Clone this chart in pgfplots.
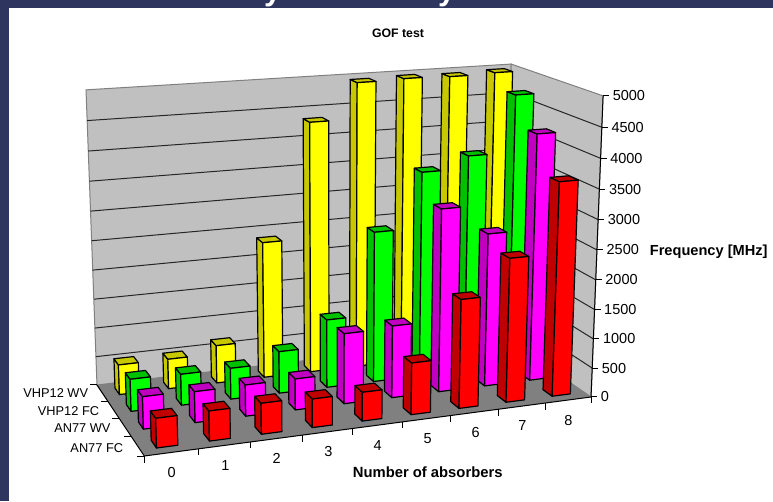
\documentclass[border=0pt]{standalone}
\usepackage{pgfplots}
\usepackage{pgfplotstable}
\usepackage{fontspec}
\setmainfont{Liberation Sans}
\pgfplotsset{compat=1.18}

\definecolor{slateband}{RGB}{46,53,94}
\definecolor{wallgray}{RGB}{192,192,192}
\definecolor{floorgray}{RGB}{128,128,128}
\definecolor{yfront}{RGB}{255,255,0}\definecolor{yside}{RGB}{200,200,0}
\definecolor{gfront}{RGB}{0,255,0}\definecolor{gside}{RGB}{0,192,0}
\definecolor{mfront}{RGB}{255,0,255}\definecolor{mside}{RGB}{192,0,192}
\definecolor{rfront}{RGB}{255,0,0}\definecolor{rside}{RGB}{192,0,0}

% Frequency in MHz per number of absorbers and per sample
\pgfplotstableread{
n  vhpwv  vhpfc  anwv  anfc
0   514    544    537   479
1   515    528    516   489
2   657    531    525   508
3   2361   720    525   474
4   4338   1175   1193  481
5   4949   2596   1231  869
6   4967   3542   3114  1832
7   4952   3755   2623  2429
8   4972   4728   4227  3612
}\gofdata

% Perspective projection of the unit chart box: u along the absorbers,
% v along the samples, w along the frequency
\newcommand\proj[5]{%
  \pgfmathsetmacro\den{1+0.0945*(#1)+0.1177*(#2)-0.0492*(#3)}%
  \pgfmathsetmacro#4{(502.6*(#1)-35.9*(#2)-16.5*(#3)+144.3)/\den}%
  \pgfmathsetmacro#5{(-21.5*(#1)-25.7*(#2)-334.3*(#3)+456)/\den}}

% Closed face through four box points
\newcommand\face[5]{%
  \proj#2\xa\ya \proj#3\xb\yb \proj#4\xc\yc \proj#5\xd\yd
  \edef\temp{\noexpand\addplot[#1] coordinates
    {(\xa,\ya) (\xb,\yb) (\xc,\yc) (\xd,\yd)} -- cycle;}\temp}

% Open line between two box points
\newcommand\edgeline[3]{%
  \proj#2\xa\ya \proj#3\xb\yb
  \edef\temp{\noexpand\addplot[#1] coordinates {(\xa,\ya) (\xb,\yb)};}\temp}

% One column: absorbers, sample index, value, front colour, shaded colour
\newcommand\column[5]{%
  \pgfmathsetmacro\uA{(#1+0.3)/9}\pgfmathsetmacro\uB{(#1+0.7)/9}%
  \pgfmathsetmacro\vA{(#2+0.3)/4}\pgfmathsetmacro\vB{(#2+0.7)/4}%
  \pgfmathsetmacro\wT{#3/5000}%
  \face{draw=black,line width=1.2pt,line join=round,fill=#5}
    {{\uA}{\vA}{0}}{{\uA}{\vB}{0}}{{\uA}{\vB}{\wT}}{{\uA}{\vA}{\wT}}%
  \face{draw=black,line width=1.2pt,line join=round,fill=#5}
    {{\uA}{\vA}{\wT}}{{\uB}{\vA}{\wT}}{{\uB}{\vB}{\wT}}{{\uA}{\vB}{\wT}}%
  \face{draw=black,line width=1.2pt,line join=round,fill=#4}
    {{\uA}{\vA}{0}}{{\uB}{\vA}{0}}{{\uB}{\vA}{\wT}}{{\uA}{\vA}{\wT}}}

\newcommand\sample[4]{%
  \pgfplotsinvokeforeach{0,...,8}{%
    \pgfplotstablegetelem{##1}{#1}\of\gofdata
    \let\thisvalue\pgfplotsretval
    \column{##1}{#2}{\thisvalue}{#3}{#4}}}

\newcommand\lbl[4][]{%
  \edef\temp{\noexpand\node[inner sep=0pt,\unexpanded{#1}] at (axis cs:#2,#3) {\unexpanded{#4}};}\temp}

\begin{document}
\begin{tikzpicture}
\begin{axis}[
  hide axis, scale only axis, width=773pt, height=501pt,
  xmin=0, xmax=773, ymin=0, ymax=501, y dir=reverse, clip=false,
  every axis plot/.append style={no markers}]

% page background and cut-off heading strip
\addplot[draw=none,fill=slateband] coordinates {(0,0) (773,0) (773,501) (0,501)} -- cycle;
\addplot[draw=none,fill=white] coordinates {(9,8) (773,8) (773,501) (9,501)} -- cycle;
\begin{scope}
  \clip (axis cs:0,0) rectangle (axis cs:773,8);
  \node[anchor=base west,inner sep=0pt,text=white,font=\fontsize{31}{34}\bfseries\selectfont] at (axis cs:264,0.5) {y};
  \node[anchor=base west,inner sep=0pt,text=white,font=\fontsize{31}{34}\bfseries\selectfont] at (axis cs:438,0.5) {y};
\end{scope}

% walls and floor
\face{draw=floorgray,line width=1pt,fill=wallgray}{{0}{1}{0}}{{1}{1}{0}}{{1}{1}{1}}{{0}{1}{1}}
\face{draw=floorgray,line width=1pt,fill=wallgray}{{1}{1}{0}}{{1}{0}{0}}{{1}{0}{1}}{{1}{1}{1}}
\pgfplotsinvokeforeach{1,...,9}{%
  \pgfmathsetmacro\wG{#1/10}%
  \edgeline{draw=black!85,line width=1pt}{{0}{1}{\wG}}{{1}{1}{\wG}}%
  \edgeline{draw=black!85,line width=1pt}{{1}{1}{\wG}}{{1}{0}{\wG}}}
\face{draw=none,fill=floorgray}{{0}{0}{0}}{{1}{0}{0}}{{1}{1}{0}}{{0}{1}{0}}

% columns, farthest sample first
\sample{vhpwv}{3}{yfront}{yside}
\sample{vhpfc}{2}{gfront}{gside}
\sample{anwv}{1}{mfront}{mside}
\sample{anfc}{0}{rfront}{rside}

% floor edges and frequency axis
\edgeline{draw=black,line width=1pt}{{0}{0}{0}}{{1}{0}{0}}
\edgeline{draw=black,line width=1pt}{{0}{0}{0}}{{0}{1}{0}}
\edgeline{draw=black,line width=1pt}{{1}{0}{0}}{{1}{0}{1}}

% ticks on the absorber axis
\pgfplotsinvokeforeach{0,...,9}{%
  \pgfmathsetmacro\uT{#1/9}\proj{\uT}{0}{0}\xa\ya
  \pgfmathsetmacro\yb{\ya+6.5}%
  \edef\temp{\noexpand\addplot[draw=black,line width=1pt] coordinates {(\xa,\ya) (\xa,\yb)};}\temp}
% ticks on the sample axis
\pgfplotsinvokeforeach{0,...,4}{%
  \pgfmathsetmacro\vT{#1/4}\proj{0}{\vT}{0}\xa\ya
  \pgfmathsetmacro\xb{\xa-7}%
  \edef\temp{\noexpand\addplot[draw=black,line width=1pt] coordinates {(\xa,\ya) (\xb,\ya)};}\temp}
% ticks and labels on the frequency axis
\pgfplotsinvokeforeach{0,500,...,5000}{%
  \pgfmathsetmacro\wT{#1/5000}\proj{1}{0}{\wT}\xa\ya
  \pgfmathsetmacro\xb{\xa+6}\pgfmathsetmacro\xl{\xa+9.5}%
  \edef\temp{\noexpand\addplot[draw=black,line width=1pt] coordinates {(\xa,\ya) (\xb,\ya)};}\temp
  \lbl[anchor=west,font=\fontsize{14.5}{16}\selectfont]{\xl}{\ya}{#1}}

% absorber labels
\lbl[font=\fontsize{14.5}{16}\selectfont]{171.7}{472.7}{0}
\lbl[font=\fontsize{14.5}{16}\selectfont]{225.3}{466}{1}
\lbl[font=\fontsize{14.5}{16}\selectfont]{276.7}{458.3}{2}
\lbl[font=\fontsize{14.5}{16}\selectfont]{328.3}{451.7}{3}
\lbl[font=\fontsize{14.5}{16}\selectfont]{377.7}{446}{4}
\lbl[font=\fontsize{14.5}{16}\selectfont]{427.7}{439}{5}
\lbl[font=\fontsize{14.5}{16}\selectfont]{475.7}{432.7}{6}
\lbl[font=\fontsize{14.5}{16}\selectfont]{522.3}{426}{7}
\lbl[font=\fontsize{14.5}{16}\selectfont]{568.3}{420.7}{8}

% sample labels
\lbl[anchor=east,font=\fontsize{12.8}{15}\selectfont]{88.3}{393.3}{VHP12 WV}
\lbl[anchor=east,font=\fontsize{12.8}{15}\selectfont]{99.3}{411}{VHP12 FC}
\lbl[anchor=east,font=\fontsize{12.8}{15}\selectfont]{110.7}{428.3}{AN77 WV}
\lbl[anchor=east,font=\fontsize{12.8}{15}\selectfont]{123.3}{447.7}{AN77 FC}

% titles
\lbl[font=\fontsize{12.3}{14}\bfseries\selectfont]{398}{33}{GOF test}
\lbl[font=\fontsize{14.8}{17}\bfseries\selectfont]{427.7}{472.7}{Number of absorbers}
\lbl[font=\fontsize{14.6}{17}\bfseries\selectfont]{708.7}{252}{Frequency [MHz]}
\end{axis}
\end{tikzpicture}
\end{document}
